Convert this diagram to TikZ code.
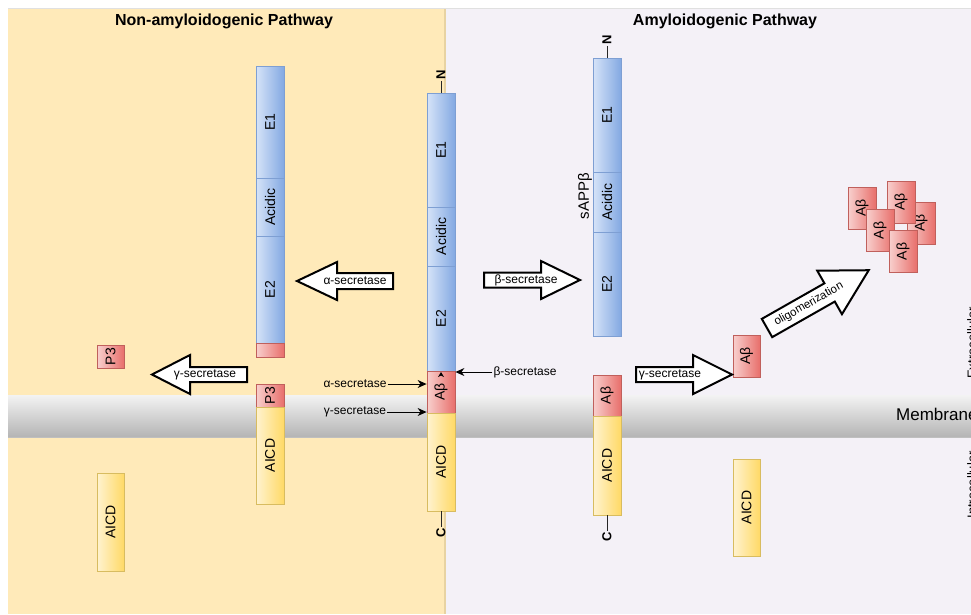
\documentclass[tikz,border=0pt]{standalone}
\usepackage{fontspec}
\setmainfont{Liberation Sans}
\usetikzlibrary{arrows.meta}
\definecolor{leftpanel}{HTML}{FFEAB9}
\definecolor{rightpanel}{HTML}{F4F1F7}
\definecolor{panelline}{HTML}{E8D3A2}
\definecolor{blueL}{HTML}{D6E3F8}
\definecolor{blueR}{HTML}{83A9E2}
\definecolor{blueD}{HTML}{7E9FD3}
\definecolor{redL}{HTML}{F8D0CE}
\definecolor{redR}{HTML}{E86F6B}
\definecolor{redD}{HTML}{C0605C}
\definecolor{yelL}{HTML}{FFF3D0}
\definecolor{yelR}{HTML}{FFD966}
\definecolor{yelD}{HTML}{D8BC60}
\definecolor{memT}{HTML}{F3F3F3}
\definecolor{memB}{HTML}{B4B4B4}
\newcommand{\vtext}[1]{\rotatebox{90}{#1}}
\newcommand{\lblfont}{\fontsize{14}{14}\selectfont}
\tikzset{
  pbox/.style={draw, line width=0.8pt, minimum width=28pt, inner sep=0pt, font=\lblfont},
  bluebox/.style={pbox, draw=blueD, left color=blueL, right color=blueR},
  redbox/.style={pbox, draw=redD, left color=redL, right color=redR},
  yelbox/.style={pbox, draw=yelD, left color=yelL, right color=yelR},
  endlbl/.style={font=\bfseries\fontsize{13}{13}\selectfont, inner sep=1pt},
  stem/.style={line width=1pt, black!85},
  blockarrow/.style={draw=black, line width=2pt, fill=white, line join=miter},
  arrowtext/.style={font=\fontsize{12}{12}\selectfont, inner sep=0pt},
  smalltext/.style={font=\fontsize{12}{12}\selectfont, inner sep=1pt},
  thinarrow/.style={line width=1pt, -{Stealth[length=9pt,width=8pt]}},
  titletext/.style={font=\bfseries\fontsize{16}{16}\selectfont}
}
\begin{document}
\begin{tikzpicture}[x=1pt,y=-1pt]
\useasboundingbox (0,0) rectangle (971,614);
\clip (0,0) rectangle (971,614);
\fill[white] (0,0) rectangle (971,614);
% panels
\fill[leftpanel] (8,8) rectangle (445,614);
\fill[rightpanel] (445,8) rectangle (971,614);
\draw[panelline, line width=1.5pt] (445,8) -- (445,614);
\draw[black!12, line width=0.8pt] (8,8) -- (971,8);
% membrane
\shade[top color=memT, bottom color=memB] (8,395) rectangle (971,437);
\draw[black!25, line width=0.5pt] (8,437) -- (971,437);
\node[font=\fontsize{17}{17}\selectfont, anchor=base west, inner sep=0pt] (mem) at (896,420) {Membrane};
\node[rotate=90, anchor=north, inner sep=0pt, font=\fontsize{13}{13}\selectfont] (extra) at (967,343) {Extracellular};
\node[rotate=90, anchor=north, inner sep=0pt, font=\fontsize{13}{13}\selectfont] (intra) at (967,485) {Intracellular};
% titles
\node[titletext] (t1) at (224,21) {Non-amyloidogenic Pathway};
\node[titletext] (t2) at (725,21) {Amyloidogenic Pathway};

% left column
\node[bluebox, minimum height=112pt] (le1) at (270,122) {\vtext{E1}};
\node[bluebox, minimum height=58pt] (lac) at (270,207) {\vtext{Acidic}};
\node[bluebox, minimum height=107pt] (le2) at (270,289.5) {\vtext{E2}};
\node[redbox, minimum height=14pt] (lred) at (270,350) {};
\node[redbox, minimum height=23pt] (lp3) at (270,395.5) {\vtext{P3}};
\node[yelbox, minimum height=97pt] (laicd) at (270,455.5) {\vtext{AICD}};
% free left
\node[redbox, minimum width=27pt, minimum height=23pt] (fp3) at (110.5,356.5) {\vtext{P3}};
\node[yelbox, minimum width=27pt, minimum height=98pt] (faicd) at (110.5,522) {\vtext{AICD}};

% center column
\node[endlbl] (cN) at (441,75) {\vtext{N}};
\node[bluebox, minimum height=114pt] (ce1) at (441,150) {\vtext{E1}};
\node[bluebox, minimum height=59pt] (cac) at (441,236.5) {\vtext{Acidic}};
\node[bluebox, minimum height=105pt] (ce2) at (441,318.5) {\vtext{E2}};
\node[redbox, minimum height=42pt] (cab) at (441,392) {\vtext{Aβ}};
\node[yelbox, minimum height=98pt] (caicd) at (441,462) {\vtext{AICD}};
\node[endlbl] (cC) at (441,533) {\vtext{C}};
\draw[stem] (cN.south) -- (ce1.north);
\draw[stem] (caicd.south) -- (cC.north);
\fill (438,377) -- (441,372) -- (444,377) -- (441,375.5) -- cycle;

% right column
\node[endlbl] (rN) at (607,40) {\vtext{N}};
\node[bluebox, minimum height=114pt] (re1) at (607,115) {\vtext{E1}};
\node[bluebox, minimum height=60pt] (rac) at (607,202) {\vtext{Acidic}};
\node[bluebox, minimum height=104pt] (re2) at (607,284) {\vtext{E2}};
\node[font=\fontsize{15}{15}\selectfont, inner sep=0pt] (sapp) at (585,196) {\vtext{sAPPβ}};
\node[redbox, minimum height=41pt] (rab) at (607,395.5) {\vtext{Aβ}};
\node[yelbox, minimum height=99pt] (raicd) at (607,465.5) {\vtext{AICD}};
\node[endlbl] (rC) at (607,537) {\vtext{C}};
\draw[stem] (rN.south) -- (re1.north);
\draw[stem] (raicd.south) -- (rC.north);

% free right
\node[redbox, minimum width=27pt, minimum height=42pt] (fab) at (746.5,356) {\vtext{Aβ}};
\node[yelbox, minimum width=27pt, minimum height=97pt] (faicd2) at (746.5,507.5) {\vtext{AICD}};

% cluster
\node[redbox, minimum height=42pt] (ka) at (862,208) {\vtext{Aβ}};
\node[redbox, minimum height=42pt] (kc) at (921,223) {\vtext{Aβ}};
\node[redbox, minimum height=42pt] (kb) at (901,202) {\vtext{Aβ}};
\node[redbox, minimum height=42pt] (kd) at (880,230.5) {\vtext{Aβ}};
\node[redbox, minimum height=42pt] (ke) at (903,251.5) {\vtext{Aβ}};

% thin secretase arrows
\node[smalltext] (aS) at (355,384) {α-secretase};
\draw[thinarrow] (aS.east) -- (aS.east -| cab.west);
\node[smalltext] (gS) at (355,412) {γ-secretase};
\draw[thinarrow] (gS.east) -- (gS.east -| cab.west);
\node[smalltext] (bS) at (525,372) {β-secretase};
\draw[thinarrow] (bS.west) -- (bS.west -| cab.east);

% block arrows
\draw[blockarrow] (297,281) -- (337,262) -- (337,273) -- (393,273) -- (393,289) -- (337,289) -- (337,300) -- cycle;
\node[arrowtext] (alphaA) at (355,281) {α-secretase};
\draw[blockarrow] (580,280) -- (541,261) -- (541,272.5) -- (484,272.5) -- (484,287.5) -- (541,287.5) -- (541,299) -- cycle;
\node[arrowtext] (betaA) at (526,280) {β-secretase};
\draw[blockarrow] (152,374.5) -- (190,355) -- (190,367) -- (247,367) -- (247,382) -- (190,382) -- (190,394) -- cycle;
\node[arrowtext] (gamL) at (205,374.5) {γ-secretase};
\draw[blockarrow] (732,374.5) -- (693,355) -- (693,367) -- (636,367) -- (636,382) -- (693,382) -- (693,394) -- cycle;
\node[arrowtext] (gamR) at (670,374.5) {γ-secretase};
\begin{scope}[shift={(767,328)}, rotate=29.6]
\draw[blockarrow] (0,-10.5) -- (72,-10.5) -- (72,-25) -- (117,0) -- (72,25) -- (72,10.5) -- (0,10.5) -- cycle;
\node[arrowtext, rotate=29.6, font=\fontsize{11.5}{11.5}\selectfont] (oligo) at (48,0) {oligomerization};
\end{scope}
\end{tikzpicture}
\end{document}
